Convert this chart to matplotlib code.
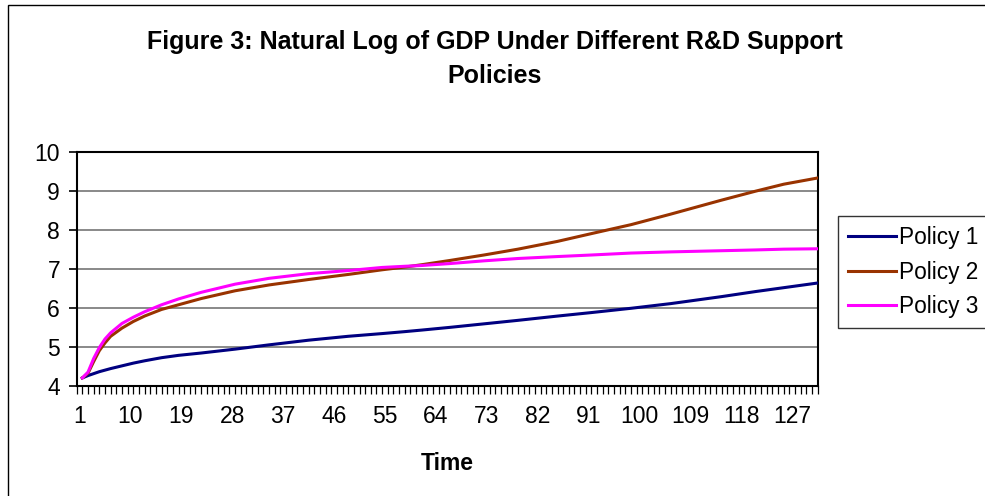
import matplotlib
matplotlib.use("Agg")
import matplotlib.pyplot as plt
from matplotlib.patches import Rectangle

plt.rcParams["font.family"] = ["Liberation Sans", "DejaVu Sans"]

time = [1, 2, 3, 4, 5, 6, 8, 10, 12, 15, 18, 22, 28, 34, 41, 48, 54, 58, 61,
        66, 72, 78, 85, 91, 98, 105, 114, 120, 125, 131]
policy1 = [4.20, 4.26, 4.31, 4.36, 4.40, 4.44, 4.51, 4.58, 4.64, 4.72, 4.78,
           4.84, 4.94, 5.05, 5.17, 5.27, 5.34, 5.39, 5.43, 5.50, 5.59, 5.68,
           5.79, 5.88, 5.99, 6.11, 6.29, 6.42, 6.52, 6.64]
policy2 = [4.20, 4.32, 4.62, 4.90, 5.10, 5.27, 5.48, 5.65, 5.79, 5.96, 6.08,
           6.24, 6.44, 6.59, 6.73, 6.86, 6.98, 7.05, 7.11, 7.22, 7.36, 7.51,
           7.71, 7.91, 8.14, 8.41, 8.77, 9.00, 9.18, 9.34]
policy3 = [4.20, 4.35, 4.70, 4.98, 5.20, 5.36, 5.60, 5.76, 5.90, 6.08, 6.23,
           6.40, 6.61, 6.76, 6.88, 6.96, 7.04, 7.07, 7.09, 7.14, 7.21, 7.27,
           7.32, 7.36, 7.41, 7.44, 7.47, 7.49, 7.51, 7.52]

xtick_labels = list(range(1, 128, 9))
yticks = [4, 5, 6, 7, 8, 9, 10]

fig = plt.figure(figsize=(9.85, 4.96), dpi=100)
fig.patches.append(Rectangle((7.7 / 985, -0.05), 1.1, 1 - 5.3 / 496 + 0.05,
                             transform=fig.transFigure, fill=False,
                             edgecolor="black", linewidth=1.0))

ax = fig.add_axes([76.7 / 985, 110.3 / 496, 741 / 985, 233.4 / 496])
for y in yticks[1:-1]:
    ax.axhline(y, color="#808080", linewidth=1.3, zorder=1)

ax.plot(time, policy1, color="#000080", linewidth=2.2, label="Policy 1", zorder=3)
ax.plot(time, policy2, color="#993300", linewidth=2.2, label="Policy 2", zorder=3)
ax.plot(time, policy3, color="#FF00FF", linewidth=2.2, label="Policy 3", zorder=3)

ax.set_xlim(0, 131)
ax.set_ylim(4, 10)
ax.set_yticks(yticks)
ax.set_xticks([t - 0.5 for t in xtick_labels])
ax.set_xticklabels([str(t) for t in xtick_labels])
ax.set_xticks(range(0, 132), minor=True)
ax.tick_params(axis="x", which="major", length=0, pad=14, labelsize=16.5)
ax.tick_params(axis="x", which="minor", length=6, width=0.9, direction="out")
ax.tick_params(axis="y", length=6, width=1.2, direction="out", pad=6,
               labelsize=16.5)
for s in ax.spines.values():
    s.set_linewidth(1.5)
ax.set_xlabel("Time", fontsize=16.5, fontweight="bold", labelpad=17)

fig.text(495 / 985, 1 - 59 / 496,
         "Figure 3: Natural Log of GDP Under Different R&D Support\nPolicies",
         ha="center", va="center", fontsize=18, fontweight="bold",
         linespacing=1.55)

leg = ax.legend(loc="upper left", bbox_to_anchor=(838 / 985, 1 - 216 / 496),
                bbox_transform=fig.transFigure, frameon=True, fancybox=False,
                fontsize=16.3, handlelength=2.1, handletextpad=0.15,
                borderpad=0.45, labelspacing=0.5, borderaxespad=0)
leg.get_frame().set_edgecolor("black")
leg.get_frame().set_linewidth(1.0)

fig.savefig("out.png", dpi=100)
